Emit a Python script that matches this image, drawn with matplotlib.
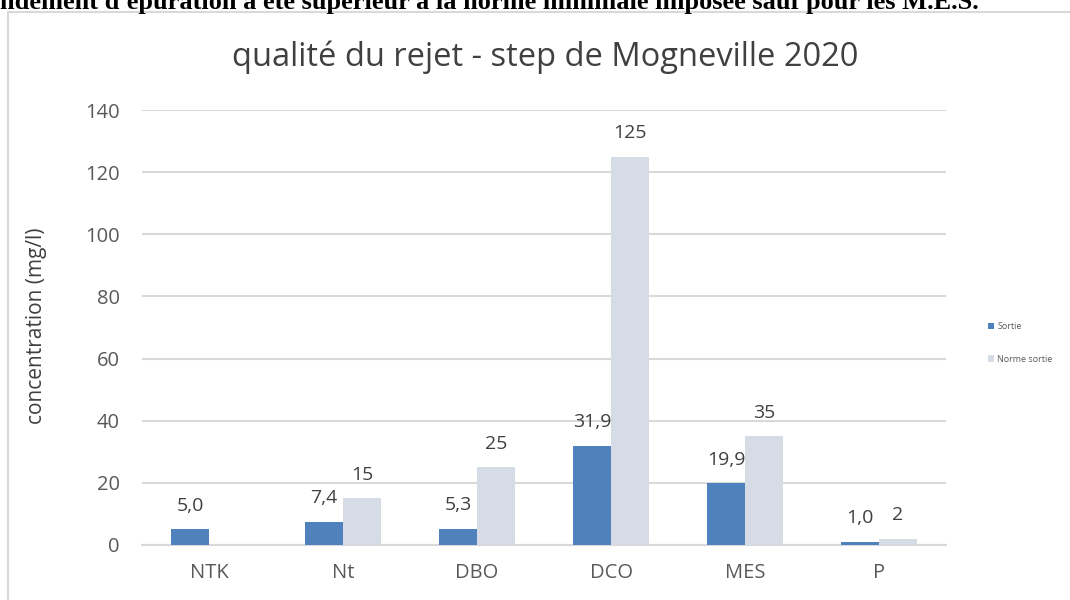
import numpy as np
import matplotlib.pyplot as plt
from matplotlib.patches import Rectangle

# Données
parametres = ['NTK', 'Nt', 'DBO', 'DCO', 'MES', 'P']
sortie = [5.0, 7.4, 5.3, 31.9, 19.9, 1.0]
norme_sortie = [np.nan, 15, 25, 125, 35, 2]
yticks = [0, 20, 40, 60, 80, 100, 120, 140]

bleu = '#4F81BD'
gris_clair = '#D6DCE5'
gris_grille = '#D9D9D9'
texte = '#595959'

plt.rcParams['font.family'] = ['Open Sans', 'DejaVu Sans']

fig = plt.figure(figsize=(10.7, 6), dpi=100)

# texte du document, coupé en haut comme sur l'original
fig.text(0.0, 1 - 8.5 / 600, "ndement d'épuration a été supérieur à la norme minimale imposée sauf pour les M.E.S.",
         family='Liberation Serif', weight='bold', fontsize=19, va='baseline', ha='left', color='black')

# cadre du graphique
fig.patches.append(Rectangle((8 / 1070, -0.1), 1.2, 0.1 + (600 - 12) / 600,
                             transform=fig.transFigure, fill=False, edgecolor=gris_grille, lw=1.5))

ax = fig.add_axes([142 / 1070, 55 / 600, 804 / 1070, 435 / 600])

x = np.arange(len(parametres))
largeur = 0.284
ax.bar(x - largeur / 2, sortie, largeur, color=bleu, label='Sortie', zorder=3)
ax.bar(x + largeur / 2, norme_sortie, largeur, color=gris_clair, label='Norme sortie', zorder=3)

for xi, v in zip(x - largeur / 2, sortie):
    ax.annotate(f'{v:.1f}'.replace('.', ','), (xi, v), xytext=(0, 17), textcoords='offset points',
                ha='center', va='center', fontsize=14, color='#404040')
for xi, v in zip(x + largeur / 2, norme_sortie):
    if np.isnan(v):
        continue
    ax.annotate(f'{v:g}', (xi, v), xytext=(0, 17), textcoords='offset points',
                ha='center', va='center', fontsize=14, color='#404040')

ax.set_xlim(-0.5, len(parametres) - 0.5)
ax.set_ylim(0, 140)
ax.set_yticks(yticks)
ax.set_xticks(x)
ax.set_xticklabels(parametres)
ax.tick_params(axis='both', length=0, labelsize=14.5, colors=texte)
ax.tick_params(axis='x', pad=13)
ax.tick_params(axis='y', pad=16)
ax.grid(axis='y', color=gris_grille, lw=1.5, zorder=0)
for s in ['top', 'right', 'left']:
    ax.spines[s].set_visible(False)
ax.spines['bottom'].set_color(gris_grille)
ax.spines['bottom'].set_linewidth(1.5)

fig.text(37 / 1070, 1 - 326 / 600, 'concentration (mg/l)', rotation=90,
         ha='center', va='center', fontsize=15, color='#404040')
fig.text(545 / 1070, 1 - 57 / 600, 'qualité du rejet - step de Mogneville 2020',
         ha='center', va='center', fontsize=23.5, color='#404040')

ax.legend(loc='center left', bbox_to_anchor=(980 / 1070, 1 - 343 / 600), bbox_transform=fig.transFigure,
          frameon=False, fontsize=6.5, handlelength=0.7, handleheight=0.7, handletextpad=0.3,
          labelspacing=2.6, labelcolor=texte)

fig.savefig('out.png', dpi=100)
